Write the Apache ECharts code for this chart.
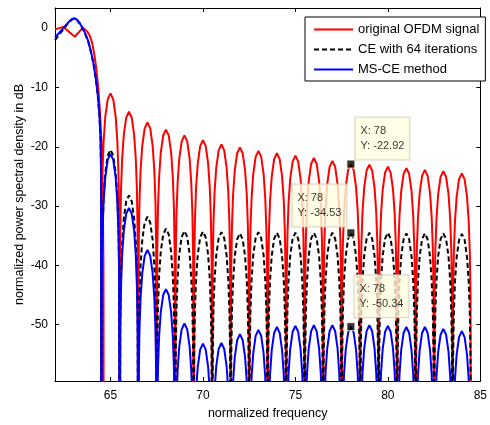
<!DOCTYPE html>
<html>
<head>
<meta charset="utf-8">
<script src="https://cdn.jsdelivr.net/npm/echarts@6/dist/echarts.min.js"></script>
<style>
html,body{margin:0;padding:0;background:#fff;}
#chart{width:490px;height:425px;}
</style>
</head>
<body>
<div id="chart"></div>
<script>
// ---- tick labels ----
const xTicks = [65, 70, 75, 80, 85];
const yTicks = [-50, -40, -30, -20, -10, 0];

// ---- series names ----
const seriesNames = ['original OFDM signal', 'CE with 64 iterations', 'MS-CE method'];

// ---- main lobe samples [x, dB] ----
const redMain = [[62.0,-0.2],[62.45,0.2],[63.07,-1.45],[63.5,0.05],[63.62,-0.2],[63.75,-0.6],[63.87,-1.2],[64.0,-2.4],[64.12,-4.3],[64.24,-7],[64.35,-10.5],[64.45,-15],[64.53,-20.5],[64.58,-27],[64.62,-40],[64.64,-90]];
const blackMain = [[62.0,-2.0],[62.2,-1.2],[62.45,-0.2],[62.7,0.8],[62.9,1.4],[63.05,1.6],[63.2,1.3],[63.35,0.7],[63.5,-0.1],[63.65,-1.1],[63.8,-2.3],[63.95,-4.1],[64.1,-6.4],[64.22,-8.9],[64.32,-11.6],[64.4,-14.6],[64.46,-18.6],[64.49,-24],[64.5,-90]];
const blueMain = [[62.0,-1.5],[62.2,-0.9],[62.45,0.0],[62.7,0.9],[62.9,1.5],[63.05,1.7],[63.2,1.4],[63.35,0.8],[63.5,0.0],[63.65,-1.0],[63.8,-2.2],[63.95,-4.0],[64.1,-6.3],[64.22,-8.8],[64.32,-11.5],[64.4,-14.5],[64.46,-18.5],[64.49,-24],[64.5,-90]];

// ---- side lobes: centre frequency and peak level (dB) ----
const lobeCenters = [65,66,67,68,69,70,71,72,73,74,75,76,77,78,79,80,81,82,83,84];
const redPeaks   = [-11.0,-14.1,-15.9,-17.1,-18.1,-18.9,-19.6,-20.1,-20.7,-21.1,-21.5,-21.9,-22.4,-22.92,-23.0,-23.35,-23.6,-23.9,-24.1,-24.5];
const blackPeaks = [-20.5,-28.2,-31.8,-33.8,-34.2,-34.3,-34.4,-34.6,-34.4,-34.5,-34.5,-34.5,-34.5,-34.53,-34.5,-34.5,-34.6,-34.6,-34.6,-34.7];
const bluePeaks  = [-21.2,-30.3,-37.4,-44.0,-49.8,-53.2,-53.1,-51.6,-50.9,-50.4,-50.2,-50.1,-50.1,-50.34,-50.1,-50.2,-50.4,-50.4,-50.7,-51.1];

// ---- shape of one side lobe (offset from centre, level below its peak) ----
const lobeOffsets = [-0.47,-0.43,-0.37,-0.28,-0.15,0,0.15,0.28,0.37,0.43,0.47];
const lobeDrops   = [-20.5,-13.2,-8.0,-3.9,-1.0,0,-1.0,-3.9,-8.0,-13.2,-20.5];
const nullLevel = -90; // nulls fall far below the axis
const nullOffset = 0.5;

// ---- data tips ----
const tipX = [78, 78, 78];
const tipY = [-22.92, -34.53, -50.34];

function buildCurve(main, peaks) {
  const data = main.map(p => [p[0], p[1]]);
  lobeCenters.forEach((c, i) => {
    data.push([c - nullOffset, nullLevel]);
    lobeOffsets.forEach((o, j) => data.push([c + o, peaks[i] + lobeDrops[j]]));
  });
  data.push([lobeCenters[lobeCenters.length - 1] + nullOffset, nullLevel]);
  return data;
}

const FONT = '"Liberation Sans", Arial, Helvetica, sans-serif';
const chart = echarts.init(document.getElementById('chart'), null, {renderer: 'canvas'});

const axisCommonX = {
  type: 'value', min: 62, max: 85,
  axisLine: {show: true, onZero: false, lineStyle: {color: '#000', width: 1}},
  axisTick: {show: true, inside: true, length: 4, customValues: xTicks, lineStyle: {color: '#000', width: 1}},
  splitLine: {show: false}
};
const axisCommonY = {
  type: 'value', min: -59.5, max: 3.4,
  axisLine: {show: true, onZero: false, lineStyle: {color: '#000', width: 1}},
  axisTick: {show: true, inside: true, length: 4, customValues: yTicks, lineStyle: {color: '#000', width: 1}},
  splitLine: {show: false}
};

const tipLabels = [
  {position: [9, 0], align: 'left', verticalAlign: 'bottom'},
  {position: [-54, -2], align: 'left', verticalAlign: 'bottom'},
  {position: [8, -5], align: 'left', verticalAlign: 'bottom'}
];

const option = {
  animation: false,
  backgroundColor: '#fff',
  textStyle: {fontFamily: FONT},
  grid: {left: 55, right: 5, top: 8, bottom: 43, containLabel: false},
  legend: {
    data: seriesNames,
    orient: 'vertical',
    left: 305, top: 17,
    padding: [6, 6, 5, 8],
    itemGap: 7,
    itemWidth: 39, itemHeight: 14,
    backgroundColor: '#fff',
    borderColor: '#000', borderWidth: 1, borderRadius: 0,
    itemStyle: {opacity: 0},
    textStyle: {fontFamily: FONT, fontSize: 13, color: '#000'},
    selectedMode: false
  },
  xAxis: [
    Object.assign({}, axisCommonX, {
      position: 'bottom',
      axisLabel: {show: true, customValues: xTicks, margin: 9, fontSize: 12, color: '#000', fontFamily: FONT},
      name: 'normalized frequency', nameLocation: 'middle', nameGap: 26, nameMoveOverlap: false,
      nameTextStyle: {fontSize: 12.5, color: '#000', fontFamily: FONT}
    }),
    Object.assign({}, axisCommonX, {position: 'top', axisLabel: {show: false}})
  ],
  yAxis: [
    Object.assign({}, axisCommonY, {
      position: 'left',
      axisLabel: {show: true, customValues: yTicks, margin: 7, fontSize: 12, color: '#000', fontFamily: FONT},
      name: 'normalized power spectral density in dB', nameLocation: 'middle', nameGap: 29, nameMoveOverlap: false,
      nameTextStyle: {fontSize: 12.5, color: '#000', fontFamily: FONT}
    }),
    Object.assign({}, axisCommonY, {position: 'right', axisLabel: {show: false}})
  ],
  series: [
    {
      name: seriesNames[0], type: 'line', data: buildCurve(redMain, redPeaks),
      showSymbol: false, symbol: 'none', clip: true,
      lineStyle: {color: '#ff0000', width: 2}, itemStyle: {color: '#ff0000'}, z: 2
    },
    {
      name: seriesNames[1], type: 'line', data: buildCurve(blackMain, blackPeaks),
      showSymbol: false, symbol: 'none', clip: true,
      lineStyle: {color: '#000000', width: 2, type: [5, 3]}, itemStyle: {color: '#000000'}, z: 3
    },
    {
      name: seriesNames[2], type: 'line', data: buildCurve(blueMain, bluePeaks),
      showSymbol: false, symbol: 'none', clip: true,
      lineStyle: {color: '#0000ff', width: 2}, itemStyle: {color: '#0000ff'}, z: 4
    },
    {
      name: 'datatips', type: 'scatter', z: 10, zlevel: 1,
      symbol: 'rect', symbolSize: 8,
      itemStyle: {color: '#000', borderColor: '#ffffe0', borderWidth: 1},
      data: tipX.map((x, i) => ({
        value: [x, tipY[i]],
        label: Object.assign({
          show: true,
          formatter: 'X: ' + x + '\nY: ' + tipY[i].toFixed(2),
          fontFamily: FONT, fontSize: 11, lineHeight: 15, color: '#000',
          backgroundColor: '#ffffe1', borderColor: '#cfcbb5', borderWidth: 1,
          padding: [6, 5, 6, 5]
        }, tipLabels[i])
      }))
    }
  ]
};
chart.setOption(option);
</script>
</body>
</html>
